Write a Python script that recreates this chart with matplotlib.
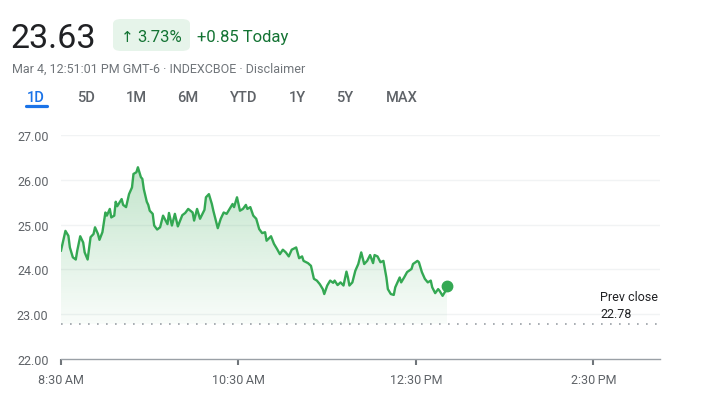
import numpy as np
import matplotlib
matplotlib.use("Agg")
import matplotlib.pyplot as plt
from matplotlib.patches import FancyBboxPatch, Polygon

plt.rcParams['font.family'] = ['Roboto', 'DejaVu Sans']

# ---- data (minutes since 8:30 AM, price) ----
minutes = [0, 3, 5, 6, 8, 10, 11, 13, 15, 16, 18, 20, 22, 23, 25, 26, 28, 30, 31, 33,
           34, 36, 37, 38, 41, 42, 44, 46, 48, 49, 51, 52, 54, 55, 56, 58, 59, 60, 62, 63,
           65, 67, 69, 72, 73, 75, 77, 79, 82, 84, 86, 89, 90, 92, 94, 97, 98, 100, 102, 103,
           106, 108, 110, 112, 116, 117, 119, 121, 123, 125, 126, 128, 130, 132, 134, 136,
           138, 139, 142, 144, 146, 148, 150, 152, 154, 156, 159, 161, 163, 164, 167, 169,
           171, 173, 175, 177, 178, 180, 182, 184, 185, 187, 189, 191, 193, 194, 195, 197,
           199, 201, 203, 205, 207, 209, 211, 212, 214, 216, 218, 220, 221, 223, 225, 226,
           229, 230, 232, 234, 237, 238, 241, 242, 244, 246, 248, 250, 251, 253, 255, 256,
           258, 260, 261]
prices = [24.42, 24.86, 24.75, 24.49, 24.27, 24.22, 24.42, 24.74, 24.60, 24.38, 24.22,
          24.72, 24.79, 24.94, 24.79, 24.66, 24.83, 25.27, 25.20, 25.35, 25.16, 25.20,
          25.51, 25.41, 25.57, 25.44, 25.39, 25.68, 25.83, 26.13, 26.17, 26.28, 26.06,
          26.02, 25.79, 25.51, 25.44, 25.31, 25.24, 24.98, 24.89, 24.94, 25.20, 25.01,
          25.26, 24.98, 25.24, 24.96, 25.21, 25.26, 25.35, 25.27, 25.09, 25.35, 25.13,
          25.33, 25.61, 25.68, 25.46, 25.31, 24.92, 25.13, 25.27, 25.24, 25.46, 25.39,
          25.61, 25.31, 25.35, 25.44, 25.35, 25.39, 25.20, 25.13, 24.90, 24.81, 24.83,
          24.64, 24.74, 24.57, 24.46, 24.34, 24.44, 24.38, 24.29, 24.44, 24.49, 24.25,
          24.29, 24.19, 24.14, 24.08, 23.79, 23.75, 23.67, 23.56, 23.45, 23.64, 23.75,
          23.70, 23.75, 23.65, 23.71, 23.64, 23.95, 23.82, 23.64, 23.71, 23.97, 24.12,
          24.38, 24.12, 24.19, 24.32, 24.14, 24.32, 24.29, 24.16, 24.19, 23.82, 23.56,
          23.45, 23.43, 23.60, 23.82, 23.71, 23.82, 23.94, 24.01, 24.12, 24.19, 24.16,
          23.94, 23.79, 23.71, 23.75, 23.60, 23.47, 23.56, 23.52, 23.41, 23.52, 23.63]
prev_close = 22.78
y_ticks = [22, 23, 24, 25, 26, 27]
x_ticks = [0, 120, 240, 360]
x_labels = ["8:30\u2009AM", "10:30\u2009AM", "12:30\u2009PM", "2:30\u2009PM"]
session_minutes = 405
tabs = ["1D", "5D", "1M", "6M", "YTD", "1Y", "5Y", "MAX"]

W, H = 702, 406
fig = plt.figure(figsize=(W / 100, H / 100), dpi=100)

def fx(px):
    return px / W

def fy(py):
    return 1 - py / H

green = "#34a853"
dark_green = "#137333"

# ---- header ----
fig.text(fx(11), fy(48), "23.63", fontsize=24.5, color="#202124", va="baseline", ha="left")
badge = FancyBboxPatch((fx(113), fy(52)), fx(190) - fx(113), fy(20) - fy(52),
                       boxstyle="round,pad=0,rounding_size=0.012",
                       transform=fig.transFigure, facecolor="#e6f4ea", edgecolor="none")
fig.patches.append(badge)
fig.text(fx(121), fy(42), "\u2191", fontsize=11, color=dark_green, va="baseline", ha="left",
         family=["DejaVu Sans"])
fig.text(fx(137), fy(42), "3.73%", fontsize=12, color=dark_green, va="baseline", ha="left")
fig.text(fx(197), fy(42), "+0.85 Today", fontsize=12, color=dark_green, va="baseline", ha="left")
fig.text(fx(12), fy(73), "Mar 4, 12:51:01 PM GMT-6 \u00b7 INDEXCBOE \u00b7 Disclaimer",
         fontsize=9, color="#70757a", va="baseline", ha="left")

tab_x = [36, 85.5, 136, 188, 244, 297, 345, 402]
for t, x in zip(tabs, tab_x):
    fig.text(fx(x), fy(102), t, fontsize=10.5, va="baseline", ha="center",
             color="#1a73e8" if t == "1D" else "#5f6368", fontweight="medium")
fig.add_artist(plt.Line2D([fx(25.5), fx(46.5)], [fy(107), fy(107)], transform=fig.transFigure,
                          color="#1a73e8", lw=2.3, solid_capstyle="round"))

# ---- chart ----
ax = fig.add_axes([fx(61), fy(360), fx(660) - fx(61), fy(136) - fy(360)])
ax.set_xlim(0, session_minutes)
ax.set_ylim(22, 27)

for yv in y_ticks[1:]:
    ax.axhline(yv, color="#f1f3f4", lw=1, zorder=0)

# gradient fill under line
x = np.array(minutes, dtype=float)
y = np.array(prices, dtype=float)
top = y.max()
grad = np.linspace(1, 0, 256).reshape(-1, 1)
rgba = np.zeros((256, 1, 4))
rgba[..., 0] = 52 / 255
rgba[..., 1] = 168 / 255
rgba[..., 2] = 83 / 255
rgba[..., 3] = 0.03 + 0.27 * grad
im = ax.imshow(rgba, extent=[x[0], x[-1], prev_close, top], aspect="auto",
               origin="upper", zorder=1, interpolation="bilinear")
verts = np.vstack([np.column_stack([x, y]), [[x[-1], prev_close], [x[0], prev_close]]])
poly = Polygon(verts, closed=True, facecolor="none", edgecolor="none", transform=ax.transData)
ax.add_patch(poly)
im.set_clip_path(poly)

ax.plot(x, y, color=green, lw=1.7, zorder=3, solid_joinstyle="round")
ax.plot([x[-1]], [y[-1]], "o", color=green, ms=7.5, zorder=4)

ax.axhline(prev_close, color="#9aa0a6", lw=1.2, dashes=(1, 4.4), zorder=2)
ax.text(fx(600) , 0, "", transform=fig.transFigure)
fig.text(fx(600), fy(298), "Prev close", fontsize=9, color="#202124", va="center", ha="left")
fig.text(fx(600), fy(314), "22.78", fontsize=9, color="#202124", va="center", ha="left")

ax.set_yticks(y_ticks)
ax.set_yticklabels([f"{v:.2f}" for v in y_ticks])
ax.set_xticks(x_ticks)
ax.set_xticklabels(x_labels)
ax.tick_params(axis="y", length=0, pad=9, labelsize=9, labelcolor="#5f6368")
ax.tick_params(axis="x", length=4, width=1.5, color="#70757a", pad=6, labelsize=9,
               labelcolor="#5f6368")
for s in ["top", "right", "left"]:
    ax.spines[s].set_visible(False)
ax.spines["bottom"].set_color("#9aa0a6")
ax.spines["bottom"].set_linewidth(1)
ax.set_facecolor("none")

fig.savefig("out.png", dpi=100)
